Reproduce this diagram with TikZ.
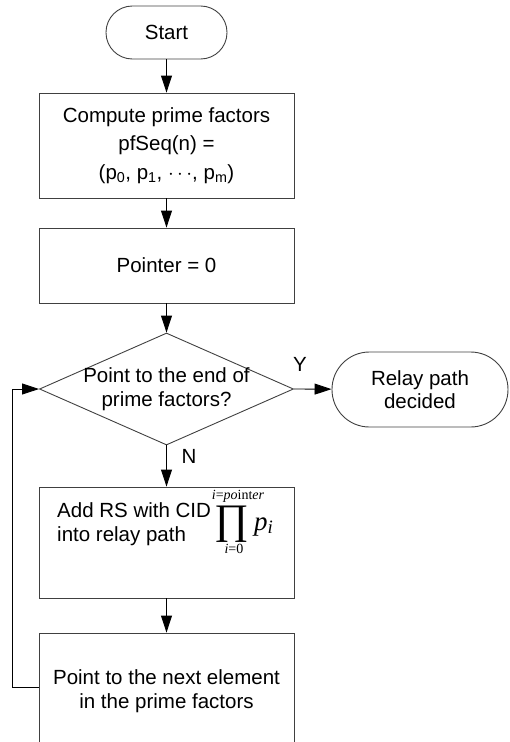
\documentclass[tikz,border=0pt]{standalone}
\usepackage{fontspec}
\setmainfont{Liberation Sans}
\newfontfamily\tnr{Liberation Serif}
\usetikzlibrary{shapes.geometric,arrows.meta}
\begin{document}
\begin{tikzpicture}[x=1pt,y=-1pt,
  every node/.style={font=\fontsize{20.5}{23.5}\selectfont, align=center, inner sep=0pt},
  box/.style={draw=black!75, line width=0.9pt, minimum width=255pt},
  term/.style={draw=black!75, line width=0.9pt},
  lim/.style={font=\tnr\fontsize{14}{15}\selectfont},
  arr/.style={line width=0.9pt, -{Triangle[length=17pt,width=11pt]}}]
\useasboundingbox (0,0) rectangle (509,742);
\clip (0,0) rectangle (509,742);
% nodes
\node[term, rounded corners=26.4pt, minimum width=121pt, minimum height=53pt] (start) at (166.5,32.5) {Start};
\node[box, minimum height=105pt, font=\fontsize{20.5}{28.5}\selectfont] (compute) at (166.5,145.5)
  {Compute prime factors\\ pfSeq(n) =\\ (p\textsubscript{0}, p\textsubscript{1}, $\cdots$, p\textsubscript{m})};
\node[box, minimum height=75pt] (pointer) at (166.5,265.5) {Pointer = 0};
\node[draw=black!75, line width=0.9pt, diamond, minimum width=254pt, minimum height=112pt] (dec) at (166.5,389) {};
\node (dectxt) at (166.5,389) {Point to the end of\\ prime factors?};
\node[term, rounded corners=37.4pt, minimum width=176pt, minimum height=75pt] (relay) at (420,389.5) {Relay path\\ decided};
\node[box, minimum height=111pt] (add) at (166.5,542.5) {};
\node[anchor=west, align=left] (addtxt) at (57,524)
  {Add RS with CID\\ into relay path};
\node[font=\tnr\fontsize{42}{42}\selectfont] (prodsym) at (232,524) {∏};
\node[lim, anchor=south] (uplim) at ([xshift=6pt,yshift=3pt]prodsym.north) {\textit{i}=\textit{po}int\textit{er}};
\node[lim, anchor=north] (lolim) at ([xshift=2pt,yshift=-2pt]prodsym.south) {\textit{i}=0};
\node[font=\tnr\itshape\fontsize{27}{27}\selectfont, anchor=base west] (pi) at (254,530) {p\textsubscript{i}};
\node[box, minimum height=116pt] (next) at (166.5,691) {Point to the next element\\ in the prime factors};
\node (ylab) at (300,364) {Y};
\node (nlab) at (189,456) {N};
\coordinate (lp) at (12,389);
% connectors
\draw[arr] (start) -- (compute);
\draw[arr] (compute) -- (pointer);
\draw[arr] (pointer) -- (dec.north);
\draw[arr] (dec.east) -- (relay);
\draw[arr] (dec.south) -- (add);
\draw[arr] (add) -- (next);
\draw[arr] ([yshift=4pt]next.west) -| (lp) -- (dec.west);
\end{tikzpicture}
\end{document}
